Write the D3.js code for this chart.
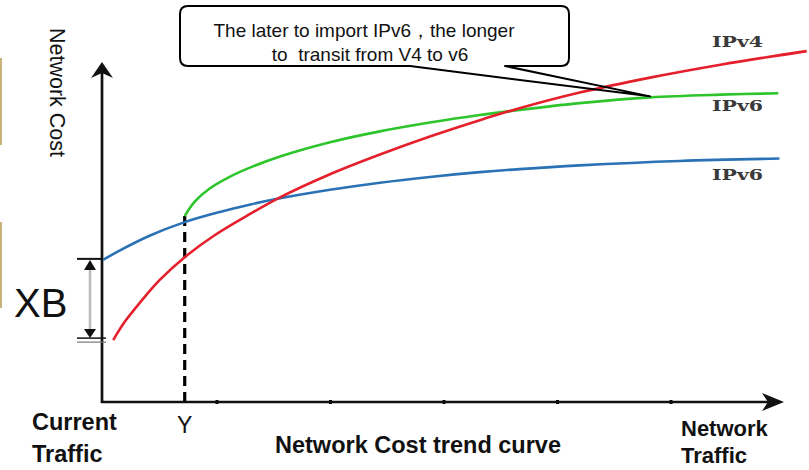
<!DOCTYPE html>
<html><head><meta charset="utf-8">
<script src="https://cdn.jsdelivr.net/npm/d3@7"></script>
<style>
html,body{margin:0;padding:0;background:#fff;}
svg{display:block;font-family:"Liberation Sans",Arial,sans-serif;}
</style></head>
<body><svg id="c" width="809" height="470"></svg>
<script>
// ---- data (traffic units, cost units) ----
const ipv4Traffic = [0.09,0.19,0.33,0.50,0.72,0.99,1.30,1.56,2.00,2.44,2.88,3.32,3.67,4.20,4.82,5.44,6.20];
const ipv4Cost    = [18.2,23.5,29.4,35.9,42.6,49.2,55.4,60.2,67.0,72.8,78.1,82.9,86.4,91.0,95.4,99.2,103.2];
const ipv6EarlyTraffic = [0,0.15,0.41,0.72,1.03,1.30,1.56,2.00,2.44,2.88,3.32,3.67,4.20,5.08,5.96];
const ipv6EarlyCost    = [41.8,44.6,48.9,52.9,55.9,58.1,59.9,62.4,64.5,66.2,67.6,68.5,69.6,70.9,71.6];
const ipv6LateTraffic = [0.72,0.81,0.94,1.12,1.30,1.56,2.00,2.44,2.88,3.32,3.67,4.20,4.82,5.44,5.95];
const ipv6LateCost    = [54.7,59.0,62.8,66.3,69.0,72.2,76.4,79.6,82.2,84.4,85.9,87.9,89.6,90.4,90.8];
const xTicks = [1,2,3,4,5];
const importPoint = 0.72;       // "Y"
const calloutTarget = 4.82;     // point on late IPv6 curve

const svg = d3.select("#c");
const x = d3.scaleLinear().domain([0,6]).range([103,784]);
const y = d3.scaleLinear().domain([0,100]).range([402,62]);

// left decorative slide bars
svg.append("rect").attr("x",0).attr("y",58).attr("width",2).attr("height",87).attr("fill","#c9b27a");
svg.append("rect").attr("x",0).attr("y",222).attr("width",2).attr("height",86).attr("fill","#c9b27a");

const zip = (a,b)=>a.map((v,i)=>[v,b[i]]);
const line = d3.line().x(d=>x(d[0])).y(d=>y(d[1])).curve(d3.curveCatmullRom.alpha(0.5));

// callout (fill first)
const tipX = x(calloutTarget), tipY = y(ipv6LateCost[ipv6LateTraffic.indexOf(calloutTarget)]) - 1;
const bx0=180, bx1=569, by0=6, by1=66, r=8;
const cpath = `M${bx0+r},${by0} H${bx1-r} Q${bx1},${by0} ${bx1},${by0+r} V${by1-r} Q${bx1},${by1} ${bx1-r},${by1} H505 L${tipX},${tipY} L410,${by1} H${bx0+r} Q${bx0},${by1} ${bx0},${by1-r} V${by0+r} Q${bx0},${by0} ${bx0+r},${by0} Z`;
svg.append("path").attr("d",cpath).attr("fill","#fff").attr("stroke","none");

// axes ticks
const ax = svg.append("g").attr("transform",`translate(0,${y(0)})`)
  .call(d3.axisBottom(x).tickValues(xTicks).tickSize(3).tickSizeOuter(0).tickFormat(""));
ax.select(".domain").remove();
ax.selectAll(".tick line").attr("stroke","#000").attr("stroke-width",3).attr("y1",-2).attr("y2",2);

// axis lines
svg.append("line").attr("x1",x(0)-1).attr("x2",x(0)-1).attr("y1",y(0)+1).attr("y2",y(100)+6).attr("stroke","#111").attr("stroke-width",2.7);
svg.append("line").attr("x1",x(0)-2).attr("x2",x(6)-8).attr("y1",y(0)).attr("y2",y(0)).attr("stroke","#111").attr("stroke-width",2.7);
// arrowheads
svg.append("path").attr("d",`M${x(0)-1},${y(100)} L${x(0)-12},${y(100)+16} L${x(0)-1},${y(100)+11} L${x(0)+10},${y(100)+16} Z`).attr("fill","#111");
svg.append("path").attr("d",`M${x(6)},${y(0)} L${x(6)-22},${y(0)-9} L${x(6)-16},${y(0)} L${x(6)-22},${y(0)+9} Z`).attr("fill","#111");

// dashed Y line
svg.append("line").attr("x1",x(importPoint)).attr("x2",x(importPoint))
  .attr("y1",y(0)).attr("y2",y(ipv6LateCost[0]))
  .attr("stroke","#000").attr("stroke-width",3.2).attr("stroke-dasharray","10,6");

// curves
svg.append("path").datum(zip(ipv6EarlyTraffic,ipv6EarlyCost)).attr("d",line).attr("fill","none").attr("stroke","#2a72b5").attr("stroke-width",2.6);
svg.append("path").datum(zip(ipv6LateTraffic,ipv6LateCost)).attr("d",line).attr("fill","none").attr("stroke","#2ec52c").attr("stroke-width",2.6);
svg.append("path").datum(zip(ipv4Traffic,ipv4Cost)).attr("d",line).attr("fill","none").attr("stroke","#e51f2b").attr("stroke-width",2.6);

// callout stroke + text
svg.append("path").attr("d",cpath).attr("fill","none").attr("stroke","#000").attr("stroke-width",2).attr("stroke-linejoin","round");
svg.append("text").attr("x",364).attr("y",37).attr("text-anchor","middle").attr("font-size",19).attr("fill","#111")
  .text("The later to import IPv6，the longer");
svg.append("text").attr("x",370).attr("y",61).attr("text-anchor","middle").attr("font-size",19).attr("fill","#111")
  .attr("xml:space","preserve").style("white-space","pre").text("to  transit from V4 to v6");

// series labels
const lab = (t,yy)=>svg.append("text").attr("x",712).attr("y",yy).attr("font-family","'DejaVu Serif',serif")
  .attr("font-weight","bold").attr("font-size",15).attr("fill","#3a3a3a").attr("textLength",51).attr("lengthAdjust","spacingAndGlyphs").text(t);
lab("IPv4",47); lab("IPv6",111); lab("IPv6",180);

// XB marker
const yTop = y(ipv6EarlyCost[0]), yBot = y(ipv4Cost[0]);
svg.append("line").attr("x1",77).attr("x2",x(0)).attr("y1",yTop-1).attr("y2",yTop-1).attr("stroke","#111").attr("stroke-width",2);
svg.append("line").attr("x1",77).attr("x2",x(0)+3).attr("y1",yBot-2).attr("y2",yBot-2).attr("stroke","#111").attr("stroke-width",1.5);
svg.append("line").attr("x1",77).attr("x2",x(0)+3).attr("y1",yBot+2).attr("y2",yBot+2).attr("stroke","#777").attr("stroke-width",1.2);
svg.append("line").attr("x1",90).attr("x2",90).attr("y1",yTop+8).attr("y2",yBot-8).attr("stroke","#bbb").attr("stroke-width",2.5);
svg.append("path").attr("d",`M90,${yTop} L84,${yTop+10} L96,${yTop+10} Z`).attr("fill","#111");
svg.append("path").attr("d",`M90,${yBot-2} L84,${yBot-11} L96,${yBot-11} Z`).attr("fill","#111");
svg.append("text").attr("x",14).attr("y",317).attr("font-size",40).attr("fill","#111").text("XB");

// axis titles
svg.append("text").attr("transform","translate(50,28) rotate(90)").attr("font-size",21.5).attr("fill","#111").text("Network Cost");
svg.append("text").attr("x",x(importPoint)).attr("y",433).attr("text-anchor","middle").attr("font-size",23).attr("fill","#111").text("Y");
const bold = (t,xx,yy,anchor,fs)=>svg.append("text").attr("x",xx).attr("y",yy).attr("text-anchor",anchor||"start")
  .attr("font-weight","bold").attr("font-size",fs||23.5).attr("fill","#111").text(t);
bold("Current",32,430); bold("Traffic",32,462);
bold("Network Cost trend curve",418,453,"middle");
bold("Network",681,436,"start",22); bold("Traffic",681,463,"start",22);
</script></body></html>
